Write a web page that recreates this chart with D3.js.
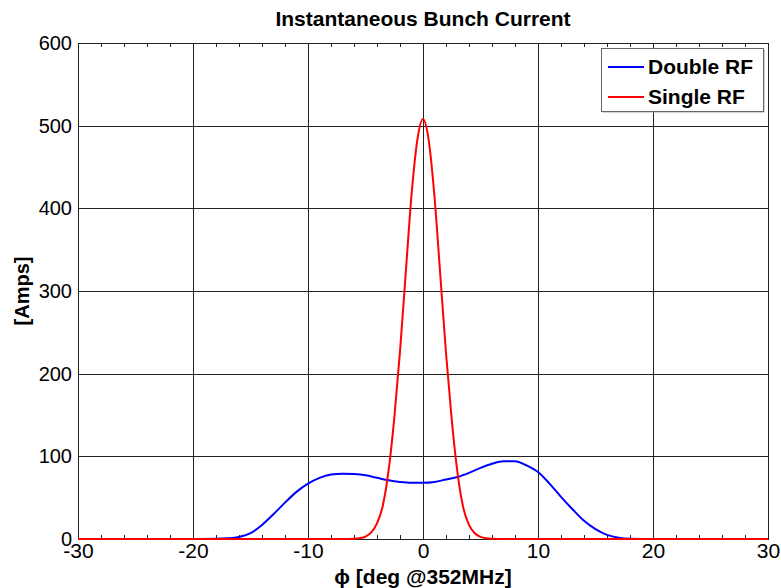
<!DOCTYPE html>
<html>
<head>
<meta charset="utf-8">
<script src="https://cdn.jsdelivr.net/npm/d3@7"></script>
<style>
  body { margin: 0; background: #fff; }
  text { font-family: "Liberation Sans", Arial, sans-serif; }
</style>
</head>
<body>
<div id="chart"></div>
<script>
// phase in degrees, current in amps
var doubleX = [-28, -20, -18, -17, -16, -15, -14, -13, -12, -11, -10, -9, -8, -7, -6, -5, -4, -3, -2, -1, 0,
  1, 2, 3, 4, 5, 6, 7, 8, 9, 10, 11, 12, 13, 14, 15, 16, 17, 18, 20, 27];
var doubleY = [0, 0, 0.2, 0.8, 2.5, 7, 17, 30, 44, 57, 67, 74, 78, 79, 78.5, 77, 74, 71, 69, 68, 68,
  69, 72, 75, 80, 86, 91, 94, 94, 89, 81, 67, 51, 36, 22, 12, 5, 1.5, 0.3, 0, 0];

var singleX = [-30, -7, -6, -5.5, -5, -4.5, -4, -3.5, -3, -2.5, -2, -1.5, -1, -0.5, 0,
  0.5, 1, 1.5, 2, 2.5, 3, 3.5, 4, 4.5, 5, 5.5, 6, 7, 30];
var singleY = [0, 0, 0.3, 1, 3, 8, 19, 40, 82, 146, 227, 322, 416, 482, 508,
  482, 414, 320, 225, 144, 80, 38, 17, 7, 2.5, 0.8, 0.3, 0, 0];

var xTicks = [-30, -20, -10, 0, 10, 20, 30];
var yTicks = [0, 100, 200, 300, 400, 500, 600];
var xMinor = d3.range(-28, 30, 2);

var width = 781, height = 588;
var margin = {top: 43, right: 13, bottom: 49, left: 78};

var svg = d3.select('#chart')
  .append('svg')
  .attr('width', width)
  .attr('height', height);

var x = d3.scaleLinear().domain([-30, 30]).range([margin.left, width - margin.right]);
var y = d3.scaleLinear().domain([0, 600]).range([height - margin.bottom, margin.top]);

// grid
svg.append('g').selectAll('line.vx')
  .data(xTicks.slice(1, -1))
  .enter().append('line')
  .attr('x1', function(d){ return x(d) + 0.5 }).attr('x2', function(d){ return x(d) + 0.5 })
  .attr('y1', y(600)).attr('y2', y(0))
  .attr('stroke', '#222').attr('stroke-width', 1);

svg.append('g').selectAll('line.hy')
  .data(yTicks.slice(1, -1))
  .enter().append('line')
  .attr('y1', function(d){ return Math.round(y(d)) + 0.5 }).attr('y2', function(d){ return Math.round(y(d)) + 0.5 })
  .attr('x1', x(-30)).attr('x2', x(30))
  .attr('stroke', '#222').attr('stroke-width', 1);

// minor ticks top and bottom
svg.append('g').selectAll('line.mt')
  .data(xMinor)
  .enter().append('line')
  .attr('x1', function(d){ return x(d) + 0.5 }).attr('x2', function(d){ return x(d) + 0.5 })
  .attr('y1', y(600)).attr('y2', y(600) + 4)
  .attr('stroke', '#222');
svg.append('g').selectAll('line.mb')
  .data(xMinor)
  .enter().append('line')
  .attr('x1', function(d){ return x(d) + 0.5 }).attr('x2', function(d){ return x(d) + 0.5 })
  .attr('y1', y(0)).attr('y2', y(0) - 4)
  .attr('stroke', '#222');

// frame
svg.append('rect')
  .attr('x', x(-30) + 0.5).attr('y', y(600) + 0.5)
  .attr('width', x(30) - x(-30)).attr('height', y(0) - y(600))
  .attr('fill', 'none').attr('stroke', '#222');

// axes labels (plain hyphen minus like the original)
var fmt = function(d){ return String(d) };

var xAxis = d3.axisBottom(x).tickValues(xTicks).tickSize(0).tickPadding(4).tickFormat(fmt);
var gx = svg.append('g').attr('transform', 'translate(0,' + y(0) + ')').call(xAxis);
gx.select('.domain').remove();
gx.selectAll('text').attr('font-size', 21).attr('fill', '#000')
  .attr('font-family', '"Liberation Sans", Arial, sans-serif');

var yAxis = d3.axisLeft(y).tickValues(yTicks).tickSize(0).tickPadding(6).tickFormat(fmt);
var gy = svg.append('g').attr('transform', 'translate(' + x(-30) + ',0)').call(yAxis);
gy.select('.domain').remove();
gy.selectAll('text').attr('font-size', 20).attr('fill', '#000')
  .attr('font-family', '"Liberation Sans", Arial, sans-serif');

// curves
var line = d3.line()
  .x(function(d){ return x(d[0]) })
  .y(function(d){ return y(d[1]) })
  .curve(d3.curveMonotoneX);

svg.append('path')
  .datum(d3.zip(doubleX, doubleY))
  .attr('d', line)
  .attr('fill', 'none').attr('stroke', '#0000ff').attr('stroke-width', 2);

svg.append('path')
  .datum(d3.zip(singleX, singleY))
  .attr('d', line)
  .attr('fill', 'none').attr('stroke', '#ff0000').attr('stroke-width', 2);

// title and axis titles
svg.append('text')
  .attr('x', x(0)).attr('y', 26)
  .attr('text-anchor', 'middle')
  .attr('font-size', 21).attr('font-weight', 'bold')
  .text('Instantaneous Bunch Current');

svg.append('text')
  .attr('x', x(0)).attr('y', 584)
  .attr('text-anchor', 'middle')
  .attr('font-size', 21).attr('font-weight', 'bold')
  .text('ϕ [deg @352MHz]');

svg.append('text')
  .attr('transform', 'translate(29,' + y(300) + ') rotate(-90)')
  .attr('text-anchor', 'middle')
  .attr('font-size', 20).attr('font-weight', 'bold')
  .text('[Amps]');

// legend
var legendData = [
  {name: 'Double RF', color: '#0000ff'},
  {name: 'Single RF', color: '#ff0000'}
];
var lg = svg.append('g').attr('transform', 'translate(601,48)');
lg.append('rect')
  .attr('x', 1.5).attr('y', 1.5).attr('width', 162).attr('height', 63)
  .attr('fill', '#aaa');
lg.append('rect')
  .attr('x', 0.5).attr('y', 0.5).attr('width', 162).attr('height', 63)
  .attr('fill', '#fff').attr('stroke', '#666');
var items = lg.selectAll('g.item')
  .data(legendData)
  .enter().append('g')
  .attr('transform', function(d, i){ return 'translate(0,' + (19 + i * 30) + ')' });
items.append('line')
  .attr('x1', 7).attr('x2', 43).attr('y1', 0).attr('y2', 0)
  .attr('stroke', function(d){ return d.color }).attr('stroke-width', 2);
items.append('text')
  .attr('x', 47).attr('y', 7)
  .attr('font-size', 21).attr('font-weight', 'bold')
  .text(function(d){ return d.name });
</script>
</body>
</html>
